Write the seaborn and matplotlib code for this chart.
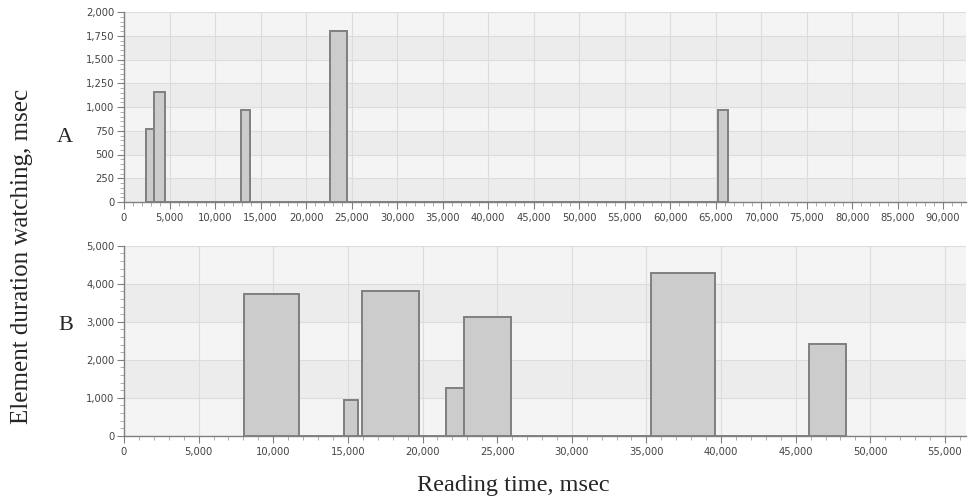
import numpy as np
import matplotlib
matplotlib.use("Agg")
import matplotlib.pyplot as plt
import seaborn as sns
from matplotlib.ticker import MultipleLocator, StrMethodFormatter

# panel A: bin edges and heights (0 = empty gap between bars)
a_edges = [2390, 3300, 4500, 12890, 13880, 22640, 24470, 65310, 66340]
a_heights = [765, 1160, 0, 965, 0, 1805, 0, 965]

# panel B
b_edges = [8040, 11730, 14745, 15685, 15950, 19770, 21540, 22790, 25900,
           35300, 39590, 45890, 48350]
b_heights = [3730, 0, 940, 0, 3805, 0, 1255, 3130, 0, 4275, 0, 2415]

sns.set_style("white")
plt.rcParams['font.family'] = ['DejaVu Sans']

fig = plt.figure(figsize=(9.71, 5.0), dpi=100)
ax_a = fig.add_axes([0.1277, 0.596, 0.867, 0.380])
ax_b = fig.add_axes([0.1277, 0.1286, 0.867, 0.380])

light = "#f4f4f4"
dark = "#ececec"


def panel(ax, edges, heights, xmax, ymax, ystep, yminor, band_offset):
    ax.set_facecolor(light)
    # alternating horizontal bands
    y = 0
    k = 0
    while y < ymax:
        if (k + band_offset) % 2 == 0:
            ax.axhspan(y, y + ystep, color=dark, lw=0, zorder=0)
        y += ystep
        k += 1
    sns.histplot(x=edges[:-1], weights=heights, bins=edges, ax=ax,
                 color="#cccccc", edgecolor="#7f7f7f", linewidth=1.4,
                 alpha=1, zorder=3)
    ax.set_xlim(0, xmax)
    ax.set_ylim(0, ymax)
    ax.xaxis.set_major_locator(MultipleLocator(5000))
    ax.xaxis.set_minor_locator(MultipleLocator(1000))
    ax.yaxis.set_major_locator(MultipleLocator(ystep))
    ax.yaxis.set_minor_locator(MultipleLocator(yminor))
    ax.xaxis.set_major_formatter(StrMethodFormatter('{x:,.0f}'))
    ax.yaxis.set_major_formatter(StrMethodFormatter('{x:,.0f}'))
    ax.grid(True, which='major', color="#dcdcdc", lw=0.8, zorder=1)
    ax.set_axisbelow(True)
    for s in ['top', 'right']:
        ax.spines[s].set_visible(False)
    for s in ['left', 'bottom']:
        ax.spines[s].set_color("#808080")
        ax.spines[s].set_linewidth(1.0)
    ax.tick_params(which='both', bottom=True, left=True, top=False, right=False)
    ax.tick_params(which='major', direction='out', length=5, width=0.8,
                   color="#808080", labelsize=7.2, labelcolor="#444444", pad=2)
    ax.tick_params(which='minor', direction='out', length=3, width=0.6,
                   color="#a0a0a0")
    ax.tick_params(axis='x', which='major', pad=3)
    ax.set_xlabel("")
    ax.set_ylabel("")


panel(ax_a, a_edges, a_heights, 92500, 2000, 250, 50, 0)
panel(ax_b, b_edges, b_heights, 56400, 5000, 1000, 200, 1)

serif = ['Liberation Serif', 'DejaVu Serif']
fig.text(0.067, 1 - 137 / 500, "A", family=serif, fontsize=16,
         ha='center', va='center')
fig.text(0.068, 1 - 325 / 500, "B", family=serif, fontsize=16,
         ha='center', va='center')
fig.text(0.023, 0.488, "Element duration watching, msec", family=serif,
         fontsize=18, rotation=90, ha='center', va='center')
fig.text(0.529, 1 - 485 / 500, "Reading time, msec", family=serif,
         fontsize=17.5, ha='center', va='center')

plt.savefig("out.png", dpi=100)
